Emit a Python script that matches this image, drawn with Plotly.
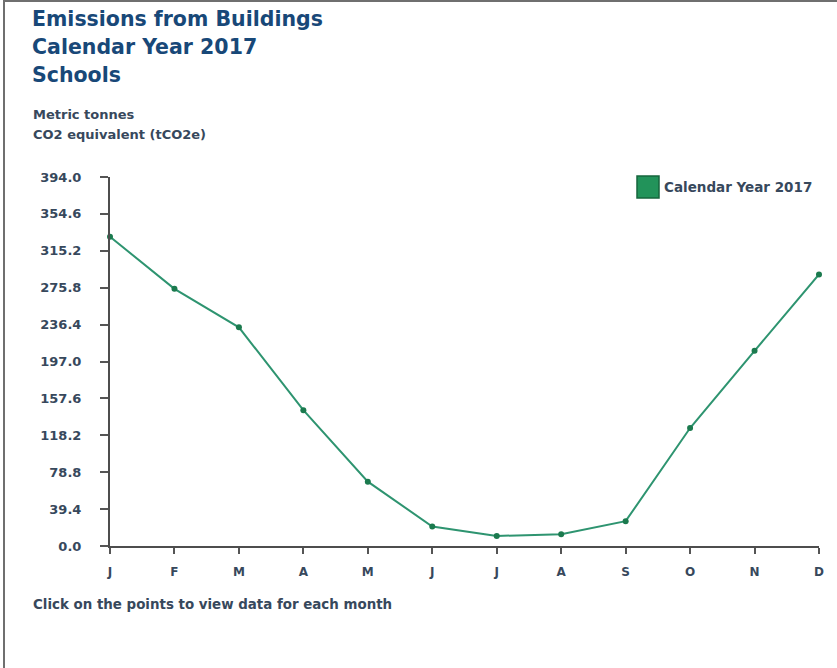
import plotly.graph_objects as go

months = ["J", "F", "M", "A", "M", "J", "J", "A", "S", "O", "N", "D"]
emissions = [330.2, 274.6, 233.5, 145.0, 68.7, 20.8, 10.7, 12.6, 26.5, 126.0, 208.4, 290.0]
y_ticks = [0.0, 39.4, 78.8, 118.2, 157.6, 197.0, 236.4, 275.8, 315.2, 354.6, 394.0]
series_name = "Calendar Year 2017"

W, H = 837, 668
ML, MR, MT, MB = 110, 18, 177, 122
PW, PH = W - ML - MR, H - MT - MB

def px(x):
    return (x - ML) / PW

def py(y):
    return (H - MB - y) / PH

FONT = "DejaVu Sans"
TITLE_C = "#184878"
TEXT_C = "#37485c"
LINE_C = "#2e9470"
MARK_C = "#1b7a4e"

fig = go.Figure()
fig.add_trace(go.Scatter(
    x=list(range(len(months))), y=emissions, mode="lines+markers",
    name=series_name, line=dict(color=LINE_C, width=2),
    marker=dict(color=MARK_C, size=6), cliponaxis=False, showlegend=False,
))

fig.update_layout(
    width=W, height=H, margin=dict(l=ML, r=MR, t=MT, b=MB),
    paper_bgcolor="white", plot_bgcolor="white",
    font=dict(family=FONT, color=TEXT_C),
    xaxis=dict(
        range=[0, len(months) - 1], tickvals=list(range(len(months))), ticktext=months,
        showgrid=False, zeroline=False, showline=True, linecolor="#4d4d4d", linewidth=2,
        ticks="outside", ticklen=6, tickwidth=2, tickcolor="#555555",
        tickfont=dict(family=FONT, size=12, color=TEXT_C, weight="bold"),
        ticklabelstandoff=8,
    ),
    yaxis=dict(
        range=[0, 394.0], tickvals=y_ticks, ticktext=[f"{v:.1f}" for v in y_ticks],
        showgrid=False, zeroline=False, showline=True, linecolor="#4d4d4d", linewidth=2,
        ticks="outside", ticklen=8, tickwidth=2, tickcolor="#555555",
        tickfont=dict(family=FONT, size=13, color=TEXT_C, weight="bold"),
        ticklabelstandoff=16,
    ),
)

annotations = [
    ("Emissions from Buildings", 30, 26, 20.5, TITLE_C),
    ("Calendar Year 2017", 30, 54, 20.5, TITLE_C),
    ("Schools", 30, 82, 20.5, TITLE_C),
    ("Metric tonnes", 31, 119, 13, TEXT_C),
    ("CO2 equivalent (tCO2e)", 31, 139, 13, TEXT_C),
    ("Click on the points to view data for each month", 31, 609, 13.4, TEXT_C),
]
for text, x, ybase, size, color in annotations:
    fig.add_annotation(
        xref="paper", yref="paper", x=px(x), y=py(ybase - size * 0.36),
        xanchor="left", yanchor="middle", text=f"<b>{text}</b>", showarrow=False,
        font=dict(family=FONT, size=size, color=color),
    )

# legend (manual, to match the large swatch)
fig.add_shape(type="rect", xref="paper", yref="paper",
              x0=px(637), x1=px(659), y0=py(198), y1=py(176),
              fillcolor="#22935a", line=dict(color="#16653d", width=1.5))
fig.add_annotation(xref="paper", yref="paper", x=px(662), y=py(187),
                   xanchor="left", yanchor="middle", text=f"<b>{series_name}</b>",
                   showarrow=False, font=dict(family=FONT, size=13.5, color=TEXT_C))

# frame edges
fig.add_shape(type="line", xref="paper", yref="paper", x0=px(4), x1=px(4), y0=py(0), y1=py(H),
              line=dict(color="#6f6f6f", width=2))
fig.add_shape(type="line", xref="paper", yref="paper", x0=px(4), x1=px(W), y0=py(1), y1=py(1),
              line=dict(color="#6f6f6f", width=2))

fig.write_html("out.html", config={"displayModeBar": False},
               post_script="document.body.style.margin='0';document.body.style.overflow='hidden';")
